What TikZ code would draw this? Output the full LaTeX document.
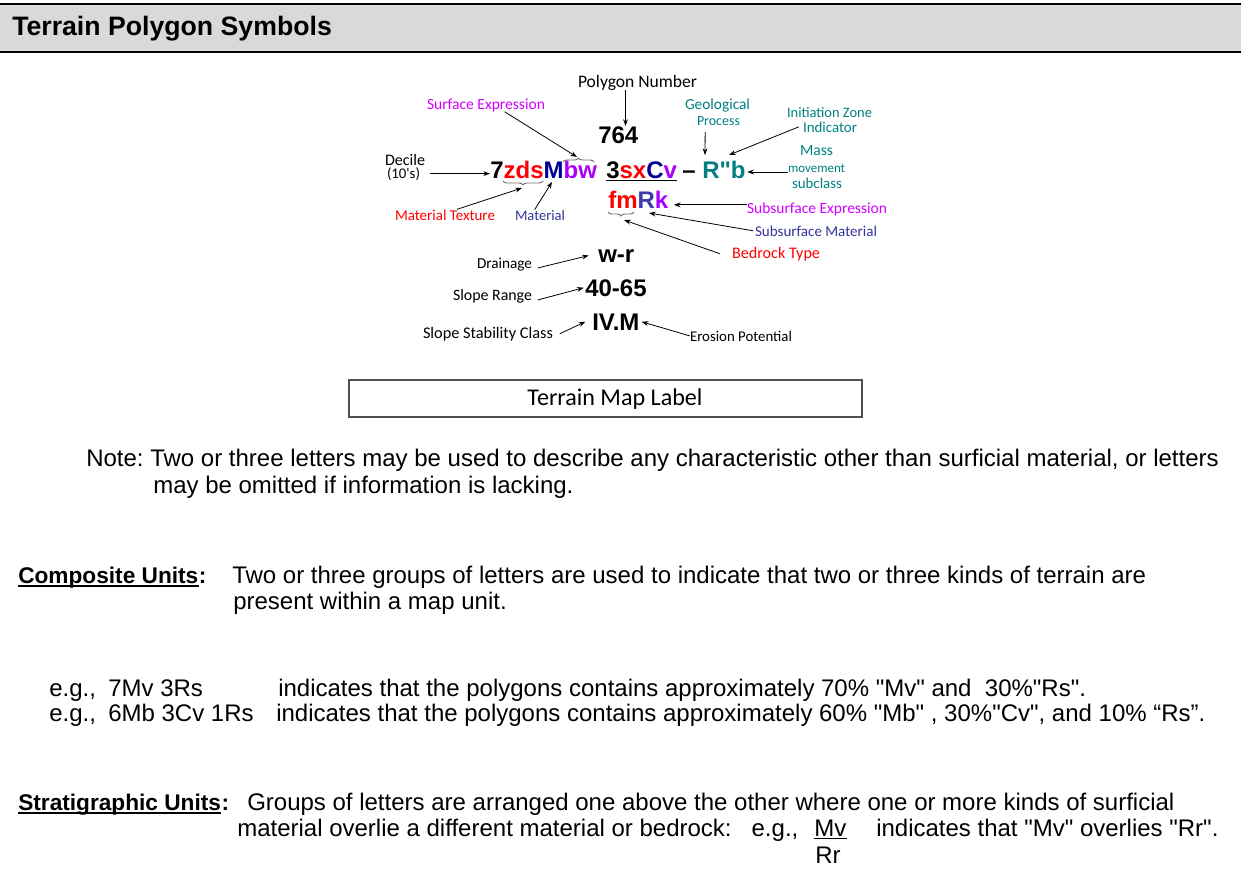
\documentclass[tikz,border=0pt]{standalone}
\usepackage{fontspec}
\usepackage{graphicx}
\setmainfont{Liberation Sans}
\newfontfamily\hand{Carlito}
\usetikzlibrary{arrows.meta,decorations.pathreplacing,calc}
\definecolor{headgray}{RGB}{217,217,217}
\definecolor{cred}{RGB}{255,0,0}
\definecolor{cnavy}{RGB}{0,0,150}
\definecolor{cslate}{RGB}{60,60,170}
\definecolor{cviolet}{RGB}{170,0,255}
\definecolor{cmag}{RGB}{210,0,255}
\definecolor{cteal}{RGB}{0,128,128}
\definecolor{clab}{RGB}{51,51,153}
\definecolor{bracegray}{RGB}{110,110,110}
\definecolor{boxgray}{RGB}{80,80,80}
\newcommand\txtfnt{\fontsize{18}{21}\selectfont}
\newcommand\bigfnt{\fontsize{18}{21}\selectfont\bfseries}
\newcommand\hw[2]{\resizebox{#1}{!}{#2}}
\newcommand\qqt{\textquotedbl}
\frenchspacing
\begin{document}
\begin{tikzpicture}[x=0.75pt,y=-0.75pt,
  body/.style={anchor=base west,inner sep=0pt,font=\txtfnt},
  bodyb/.style={anchor=base west,inner sep=0pt,font=\fontsize{17}{20}\selectfont\bfseries},
  big/.style={anchor=base west,inner sep=0pt,font=\bigfnt},
  lab/.style={anchor=base,inner sep=0pt,font=\hand},
  arr/.style={draw=black,line width=0.6pt,-{Stealth[length=5pt,width=3.6pt]}},
  brc/.style={draw=bracegray,line width=0.7pt,decorate,decoration={brace,amplitude=3pt}}]
\useasboundingbox (0,0) rectangle (1241,882);
% header
\fill[headgray] (0,4) rectangle (1241,52);
\draw[line width=1.5pt] (0,4) -- (1241,4);
\draw[line width=1.5pt] (0,52) -- (1241,52);
\node[anchor=base west,inner sep=0pt,font=\fontsize{20}{23}\selectfont\bfseries] (title) at (12,35) {Terrain Polygon Symbols};
% symbol rows
\node[big] (n764) at (598,143) {764};
\node[big] (row1) at (490,178) {7\textcolor{cred}{zds}\textcolor{cnavy}{M}\textcolor{cviolet}{bw}};
\node[big] (row2) at (606,178) {3\textcolor{cred}{sx}\textcolor{cnavy}{C}\textcolor{cviolet}{v}};
\node[big] (dash) at (682,178) {–};
\node[big,text=cteal] (rb) at (702,178) {R\qqt b};
\node[big] (fmrk) at (608,208) {\textcolor{cred}{fm}\textcolor{cslate}{R}\textcolor{cviolet}{k}};
\node[big] (wr) at (598,262) {w-r};
\node[big] (srng) at (585,296) {40-65};
\node[big] (ivm) at (592,330) {IV.M};
\draw[line width=1.1pt] ([yshift=-2pt]row2.base west) -- ([yshift=-2pt]row2.base east);
% braces
\draw[brc] (563,162) -- (594,162);
\draw[brc] (543,181) -- (503,181);
\draw[brc] (634,212) -- (608,212);
\coordinate (bwtip) at (577,157);
\coordinate (zdstip) at (522,188);
\coordinate (fmtip) at (624,220);
\coordinate (Mbot) at (552,182);
\coordinate (Rtop) at (705,155);
\coordinate (Rbtip) at (729,155);
\coordinate (Rbot) at (649,213);
% labels
\node[lab] (polyn) at (637.5,87) {\hw{89.25pt}{Polygon Number}};
\node[lab,text=cmag] (surf) at (486,109) {\hw{88.5pt}{Surface Expression}};
\node[lab] (dec1) at (405,165) {\hw{30pt}{Decile}};
\node[lab] (dec2) at (403.5,178) {\hw{24.75pt}{(10's)}};
\node[lab,text=cred] (mtex) at (445,220) {\hw{75pt}{Material Texture}};
\node[lab,text=clab] (mat) at (540,220) {\hw{37.5pt}{Material}};
\node[lab,text=cteal] (geo1) at (717.5,109) {\hw{48.75pt}{Geological}};
\node[lab,text=cteal] (geo2) at (718.5,125) {\hw{32.25pt}{Process}};
\node[lab,text=cteal] (izi1) at (829.5,117) {\hw{63.75pt}{Initiation Zone}};
\node[lab,text=cteal] (izi2) at (830,132) {\hw{40.5pt}{Indicator}};
\node[lab,text=cteal] (mass1) at (816.5,155) {\hw{24.75pt}{Mass}};
\node[lab,text=cteal] (mass2) at (816.5,172) {\hw{42.75pt}{movement}};
\node[lab,text=cteal] (mass3) at (817,188) {\hw{37.5pt}{subclass}};
\node[lab,text=cmag] (subx) at (817,213) {\hw{105pt}{Subsurface Expression}};
\node[lab,text=clab] (subm) at (816,236) {\hw{91.5pt}{Subsurface Material}};
\node[lab,text=cred] (bed) at (776,258) {\hw{66pt}{Bedrock Type}};
\node[lab] (drain) at (504.5,268) {\hw{41.25pt}{Drainage}};
\node[lab] (slr) at (492.5,300) {\hw{59.25pt}{Slope Range}};
\node[lab] (ssc) at (488,338) {\hw{97.5pt}{Slope Stability Class}};
\node[lab] (ero) at (741,341) {\hw{76.5pt}{Erosion Potential}};
\node[draw=boxgray,line width=1.1pt,minimum width=384.75pt,minimum height=27.75pt,inner sep=0pt] (mapbox) at (605.5,398.5) {};
\node[lab] (maplbl) at (615,405) {\hw{131.25pt}{Terrain Map Label}};
% arrows
\draw[arr] ([xshift=-9pt]polyn.south) -- ([xshift=-9pt]polyn.south |- n764.north);
\draw[arr] ([xshift=14pt]surf.south) -- (bwtip);
\draw[arr] ([xshift=7pt]dec2.east) -- (row1.west |- dec2.east);
\draw[arr] ([xshift=9pt]mtex.north) -- (zdstip);
\draw[arr] ([xshift=-4pt]mat.north) -- (Mbot);
\draw[arr] ([xshift=-10pt,yshift=-5pt]geo2.south) -- (Rtop);
\draw[arr] ([xshift=-3pt]izi2.west) -- (Rbtip);
\draw[arr] (mass2.base west) -- ([xshift=1pt]rb.east |- mass2.base west);
\draw[arr] ([yshift=3pt]subx.west) -- ([xshift=4pt,yshift=3pt]fmrk.east |- subx.west);
\draw[arr] ([xshift=-1pt]subm.west) -- (Rbot);
\draw[arr] ([xshift=-9pt]bed.west) -- (fmtip);
\draw[arr] ([xshift=4pt]drain.base east) -- ([xshift=-7pt]wr.west);
\draw[arr] ([xshift=4pt]slr.base east) -- ([xshift=-1pt]srng.west);
\draw[arr] ([xshift=5pt]ssc.east) -- ([xshift=-5pt]ivm.west);
\draw[arr] (ero.west) -- ([xshift=1.5pt]ivm.east);
% body text
\node[body] (note1) at (86,466) {Note: Two or three letters may be used to describe any characteristic other than surficial material, or letters};
\node[body] (note2) at (153,493) {may be omitted if information is lacking.};
\node[bodyb] (comp) at (18,583) {Composite Units};
\node[bodyb] (compc) at (comp.base east) {:};
\draw[line width=1.5pt] ([yshift=-2.5pt]comp.base west) -- ([yshift=-2.5pt]comp.base east);
\node[body] (comp1) at (232,583) {Two or three groups of letters are used to indicate that two or three kinds of terrain are};
\node[body] (comp2) at (233,609) {present within a map unit.};
\node[body] (eg1a) at (49,696) {e.g.,};
\node[body] (eg1b) at (108,696) {7Mv 3Rs};
\node[body] (eg1c) at (278,696) {indicates that the polygons contains approximately 70\% \qqt Mv\qqt{} and\ \ 30\%\qqt Rs\qqt.};
\node[body] (eg2a) at (49,721) {e.g.,};
\node[body] (eg2b) at (108,721) {6Mb 3Cv 1Rs};
\node[body] (eg2c) at (276,721) {indicates that the polygons contains approximately 60\% \qqt Mb\qqt{} , 30\%\qqt Cv\qqt, and 10\% “Rs”.};
\node[bodyb] (strat) at (18,810) {Stratigraphic Units};
\node[bodyb] (stratc) at (strat.base east) {:};
\draw[line width=1.5pt] ([yshift=-2.5pt]strat.base west) -- ([yshift=-2.5pt]strat.base east);
\node[body] (strat1) at (247,810) {Groups of letters are arranged one above the other where one or more kinds of surficial};
\node[body] (strat2) at (237,836) {material overlie a different material or bedrock:\ \ \ e.g.,};
\node[body] (mv) at (814,836) {Mv};
\draw[line width=0.8pt] ([yshift=-2pt]mv.base west) -- ([yshift=-2pt]mv.base east);
\node[body] (strat3) at (876,836) {indicates that \qqt Mv\qqt{} overlies \qqt Rr\qqt.};
\node[body] (rr) at (815,863) {Rr};
\end{tikzpicture}
\end{document}
